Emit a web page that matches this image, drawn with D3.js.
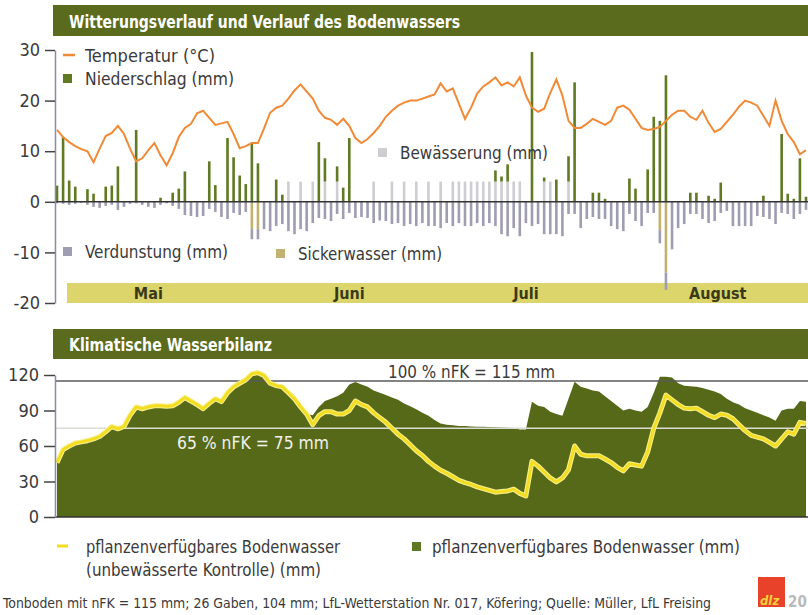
<!DOCTYPE html>
<html>
<head>
<meta charset="utf-8">
<script src="https://cdn.jsdelivr.net/npm/d3@7"></script>
<style>
  body { margin: 0; background: #fff; }
  svg text { font-family: "Liberation Sans Narrow", "Arial Narrow", "DejaVu Sans Condensed", sans-serif; }
</style>
</head>
<body>
<svg id="chart" width="808" height="615"></svg>
<script>
// ---- data (one value per day, 1 May .. 1 Sep) ----
const months = ['Mai', 'Juni', 'Juli', 'August'];
const monthLabelDay = [15, 48, 77, 108.5];

const temperature = [14.2, 12.8, 11.8, 11, 10.4, 10, 7.8, 10.5, 13, 13.6,
  15, 13.4, 10.5, 8, 8.6, 10.2, 11.6, 9.2, 7.2, 9.6,
  12.8, 14.6, 15.4, 17.5, 18, 16.6, 15.2, 15.5, 15.8, 13.4,
  10.6, 11, 11.6, 11.6, 14.5, 17.6, 18.6, 19, 20.4, 22,
  23.2, 21.8, 20.4, 18, 16.6, 16.2, 15.2, 16.4, 15, 12.6,
  11.6, 12.4, 13.6, 15, 16.8, 18, 19, 19.6, 20, 20,
  20.4, 20.8, 21.2, 23.4, 21.8, 22.4, 19.4, 16.4, 18.6, 21.4,
  22.8, 23.6, 24.6, 23, 23.6, 22.8, 24.6, 21, 18.6, 17.8,
  18.4, 21.5, 24.2, 21, 16, 14.6, 14.6, 15.4, 16.4, 15.8,
  15.2, 16, 18.6, 19, 18.2, 16.4, 14.6, 14.2, 14.4, 14.8,
  16, 17.2, 18, 18, 16.8, 16.2, 18, 15.6, 13.8, 14.4,
  15.8, 17.2, 18.8, 20, 19.6, 19, 17, 15, 20, 16,
  13.4, 11.8, 9.4, 10.2];

// Niederschlag: [day, mm]
const precipitation = [[0, 3.2], [1, 12.8], [2, 4.2], [3, 3], [5, 2.5], [6, 1.6], [8, 3], [9, 3.2],
  [10, 7], [13, 14.2], [17, 0.8], [19, 1.8], [20, 2.6], [21, 6], [25, 8], [26, 3.3],
  [28, 12.6], [29, 8.8], [30, 5.2], [31, 3.5], [32, 11.6], [33, 7.6], [36, 4.4], [37, 1.4],
  [43, 11.8], [44, 4.6], [46, 3], [47, 2.8], [48, 12.6], [72, 2.2], [73, 1], [74, 3.4],
  [78, 29.6], [80, 0.8], [82, 4.4], [84, 5], [85, 23.6], [88, 1.8], [89, 1.8], [90, 0.6],
  [94, 4.6], [95, 2.6], [97, 6.4], [98, 16.8], [99, 16], [100, 25], [104, 1.8], [105, 1.8],
  [107, 1.2], [108, 0.6], [109, 3.8], [116, 1.2], [119, 13.4], [120, 1.6], [121, 0.6],
  [122, 8.6], [123, 1]];

// Bewässerung: 26 Gaben zu 4 mm
const irrigationDays = [38, 40, 42, 44, 46, 52, 55, 57, 59, 61, 63, 65, 66, 67, 68, 69,
  70, 71, 72, 73, 74, 75, 76, 80, 81, 84];
const irrigationAmount = 4;

// Verdunstung (mm, shown negative)
const evaporation = [0.3, 0.4, 0.6, 0.4, 0.2, 0.6, 1, 1.2, 0.8, 0.6,
  1.6, 1, 0.4, 0.3, 0.6, 1, 1.2, 0.6, 0.3, 0.8,
  1.4, 2.6, 2.8, 3, 2.8, 1.4, 2, 3, 3.4, 2.2,
  2.6, 2, 2, 2, 5.4, 5.8, 4.8, 4.4, 5.8, 6.4,
  5.4, 5.8, 4.2, 3.2, 3.4, 3.8, 2.4, 3.4, 2.2, 3.2,
  3, 3.2, 4.2, 3.7, 3.8, 4.4, 4.2, 4.8, 4.4, 4.8,
  4.2, 4.8, 4.8, 5.2, 4.2, 4.8, 4.2, 4.8, 4.8, 4.2,
  4.8, 4.2, 4.8, 6.4, 6.8, 5.2, 6.8, 4.2, 4.8, 4.4,
  6.4, 6.4, 6.4, 6.8, 2.4, 2.4, 5.2, 3.4, 3, 3.4,
  3.4, 4.8, 5.4, 5.8, 2.4, 3.8, 4.8, 2.2, 2.2, 2.6,
  3.4, 9.4, 5.2, 4.4, 2.4, 2.4, 3.4, 4.2, 3.8, 2.2,
  1.8, 4.8, 4.8, 4.8, 4.8, 2.8, 3, 3.4, 4.4, 2.2,
  2.4, 3.4, 2.4, 1.6];

// Sickerwasser: [day, mm]
const seepage = [[32, 5.4], [33, 5.4], [99, 5.6], [100, 14]];

// pflanzenverfügbares Bodenwasser (mm)
const soilWaterControl = [46, 57, 60, 62.5, 63.5, 64.5, 66, 68, 72, 76.5,
  74.5, 76.5, 86, 93, 91.5, 93, 94, 94, 93.5, 94,
  97, 101, 98, 95, 91.5, 96, 100, 97.5, 105, 110,
  113, 116, 121, 122, 119.5, 113, 111, 110, 105, 100,
  93, 87, 78, 85.6, 89, 89, 87, 87, 90, 98,
  95, 93, 88, 84, 80, 75, 70, 66, 61, 56,
  52, 47, 43, 39.5, 37, 34, 31, 29, 27.5, 25.5,
  24, 22.5, 21, 21.5, 22, 23.5, 20, 17.8, 47, 43,
  38, 33, 29.7, 33, 40, 60, 53, 51.7, 51.7, 51.7,
  49, 46, 42, 39, 45, 44, 43, 55, 75, 88,
  103, 99, 95, 92, 91.5, 92, 89, 86, 84, 87,
  86, 83, 78, 73, 69, 67.5, 66, 63, 60, 66,
  72, 70, 80, 79];

const soilWaterIrrigated = [46, 57, 60, 62.5, 63.5, 64.5, 66, 68, 72, 76.5,
  74.5, 76.5, 86, 93, 91.5, 93, 94, 94, 93.5, 94,
  97, 101, 98, 95, 91.5, 96, 100, 97.5, 105, 110,
  113, 116, 121, 122, 119.5, 113, 111, 110, 105, 100,
  93, 87, 86, 93, 98, 100, 102, 105, 112, 114,
  112, 110, 107, 105, 103, 101, 99, 96, 93.5, 91,
  88, 85.6, 82, 79, 78, 77.5, 77, 76.8, 76.5, 76.3,
  76.2, 76, 75.8, 75.6, 75.5, 75.3, 74, 74, 97.5, 94,
  93, 89, 87, 85.6, 100, 114.4, 110, 108.5, 107, 106,
  102, 98, 94, 90, 91.5, 90, 89, 93, 105, 118.6,
  118.5, 117.8, 113, 111, 110.5, 110, 109, 107.5, 106, 104,
  100, 97, 95, 92, 90, 88, 86, 84, 81.4, 90,
  91.5, 91.5, 98, 97.5];

const nfk100 = 115;
const nfk65 = 75;
const topTicks = [-20, -10, 0, 10, 20, 30];
const bottomTicks = [0, 30, 60, 90, 120];

// ---- colours ----
const olive = '#5a6b1d';
const green = '#5f7a22';
const orange = '#f08a36';
const yellow = '#f2dd1e';
const evapGray = '#9f9db2';
const irrGray = '#cdcdd2';
const seepKhaki = '#c2b171';
const band = '#dcd56c';
const textCol = '#3a3a3a';

const svg = d3.select('#chart');

// ---- scales ----
const x = d3.scaleLinear().domain([0, 123]).range([57, 806]);
const yTop = d3.scaleLinear().domain([-20, 30]).range([303, 50]);
const yBot = d3.scaleLinear().domain([0, 120]).range([517, 375]);
const barW = 2.6;

// ---- title bars ----
function titleBar(y0, y1, label, len) {
  svg.append('rect').attr('x', 53).attr('y', y0).attr('width', 755).attr('height', y1 - y0)
    .attr('fill', olive);
  svg.append('text').attr('x', 69).attr('y', y1 - 8).text(label)
    .attr('fill', '#fff').attr('font-weight', 'bold').attr('font-size', 18)
    .attr('textLength', len).attr('lengthAdjust', 'spacingAndGlyphs');
}
titleBar(5, 36, 'Witterungsverlauf und Verlauf des Bodenwassers', 391);
titleBar(329, 359, 'Klimatische Wasserbilanz', 203);

// ---- top chart ----
const topG = svg.append('g');

// month band
topG.append('rect').attr('x', 67).attr('y', 283).attr('width', 741).attr('height', 20)
  .attr('fill', band);
topG.selectAll('.month').data(months).join('text')
  .attr('x', (d, i) => x(monthLabelDay[i]))
  .attr('y', 299)
  .attr('text-anchor', 'middle')
  .attr('font-weight', 'bold').attr('font-size', 16).attr('fill', '#3a3a1a')
  .text(d => d);

// irrigation (light bars above zero)
topG.selectAll('.irr').data(irrigationDays).join('rect')
  .attr('x', d => x(d) - barW / 2).attr('width', barW)
  .attr('y', yTop(irrigationAmount)).attr('height', yTop(0) - yTop(irrigationAmount))
  .attr('fill', irrGray);

// precipitation, stacked on irrigation
const irrSet = new Set(irrigationDays);
topG.selectAll('.prec').data(precipitation).join('rect')
  .attr('x', d => x(d[0]) - barW / 2).attr('width', barW)
  .attr('y', d => yTop(d[1] + (irrSet.has(d[0]) ? irrigationAmount : 0)))
  .attr('height', d => yTop(0) - yTop(d[1]))
  .attr('fill', green);

// seepage below zero, evaporation below that
const seepMap = new Map(seepage);
topG.selectAll('.seep').data(seepage).join('rect')
  .attr('x', d => x(d[0]) - barW / 2).attr('width', barW)
  .attr('y', yTop(0)).attr('height', d => yTop(-d[1]) - yTop(0))
  .attr('fill', seepKhaki);
topG.selectAll('.evap').data(evaporation).join('rect')
  .attr('x', (d, i) => x(i) - barW / 2).attr('width', barW)
  .attr('y', (d, i) => yTop(-(seepMap.get(i) || 0)))
  .attr('height', d => yTop(-d) - yTop(0))
  .attr('fill', evapGray);

// zero line
topG.append('line').attr('x1', 55).attr('x2', 808).attr('y1', yTop(0)).attr('y2', yTop(0))
  .attr('stroke', '#333').attr('stroke-width', 1.5);

// temperature line
topG.append('path').datum(temperature)
  .attr('d', d3.line().x((d, i) => x(i)).y(d => yTop(d)))
  .attr('fill', 'none').attr('stroke', orange).attr('stroke-width', 2);

// axis
const axTop = svg.append('g').attr('transform', 'translate(55,0)')
  .call(d3.axisLeft(yTop).tickValues(topTicks).tickSize(10).tickSizeOuter(0).tickPadding(5)
    .tickFormat(d => String(d)));
axTop.select('.domain').attr('stroke', '#8a8ca2').attr('stroke-width', 1.5);
axTop.selectAll('.tick line').attr('stroke', '#444').attr('stroke-width', 1.5);
axTop.selectAll('.tick text').attr('font-size', 18).attr('fill', textCol)
  .attr('font-family', '"Liberation Sans Narrow", "Arial Narrow", "DejaVu Sans Condensed", sans-serif');

// top legend
function legendText(g, px, py, label, len) {
  g.append('text').attr('x', px).attr('y', py).attr('font-size', 17.5).attr('fill', textCol)
    .attr('textLength', len).attr('lengthAdjust', 'spacingAndGlyphs').text(label);
}
function legendSquare(g, px, py, color, label, len) {
  g.append('rect').attr('x', px).attr('y', py).attr('width', 9).attr('height', 9).attr('fill', color);
  legendText(g, px + 22, py + 11, label, len);
}
topG.append('line').attr('x1', 63).attr('x2', 75).attr('y1', 55).attr('y2', 55)
  .attr('stroke', orange).attr('stroke-width', 2.5);
legendText(topG, 85, 62, 'Temperatur (°C)', 130);
legendSquare(topG, 63, 74, green, 'Niederschlag (mm)', 149);
legendSquare(topG, 378, 148, irrGray, 'Bewässerung (mm)', 148);
legendSquare(topG, 63, 247, evapGray, 'Verdunstung (mm)', 143);
legendSquare(topG, 276, 249, seepKhaki, 'Sickerwasser (mm)', 144);

// ---- bottom chart ----
const botG = svg.append('g');

botG.append('path').datum(soilWaterIrrigated)
  .attr('d', d3.area().x((d, i) => x(i)).y0(yBot(0)).y1(d => yBot(d)))
  .attr('fill', '#566919');

botG.append('line').attr('x1', 55).attr('x2', 808).attr('y1', yBot(nfk100)).attr('y2', yBot(nfk100))
  .attr('stroke', '#5a5a5a').attr('stroke-width', 1.5);
botG.append('line').attr('x1', 55).attr('x2', 808).attr('y1', yBot(nfk65)).attr('y2', yBot(nfk65))
  .attr('stroke', '#dcdcd6').attr('stroke-width', 1.5);

const ctrlLine = d3.line().x((d, i) => x(i)).y(d => yBot(d));
botG.append('path').datum(soilWaterControl).attr('d', ctrlLine)
  .attr('fill', 'none').attr('stroke', '#f7ee8a').attr('stroke-width', 5).attr('stroke-linejoin', 'round');
botG.append('path').datum(soilWaterControl).attr('d', ctrlLine)
  .attr('fill', 'none').attr('stroke', yellow).attr('stroke-width', 2.8).attr('stroke-linejoin', 'round');

botG.append('text').attr('x', 388).attr('y', 378).attr('font-size', 17.5).attr('fill', textCol)
  .attr('textLength', 167).attr('lengthAdjust', 'spacingAndGlyphs')
  .text('100 % nFK = 115 mm');
botG.append('text').attr('x', 177).attr('y', 449).attr('font-size', 17.5).attr('fill', '#f2f2ea')
  .attr('textLength', 152).attr('lengthAdjust', 'spacingAndGlyphs')
  .text('65 % nFK = 75 mm');

botG.append('line').attr('x1', 55).attr('x2', 808).attr('y1', yBot(0)).attr('y2', yBot(0))
  .attr('stroke', '#333').attr('stroke-width', 1.5);

const axBot = svg.append('g').attr('transform', 'translate(55,0)')
  .call(d3.axisLeft(yBot).tickValues(bottomTicks).tickSize(11).tickSizeOuter(0).tickPadding(5));
axBot.select('.domain').attr('stroke', '#8a8ca2').attr('stroke-width', 1.5);
axBot.selectAll('.tick line').attr('stroke', '#444').attr('stroke-width', 1.5);
axBot.selectAll('.tick text').attr('font-size', 18).attr('fill', textCol)
  .attr('font-family', '"Liberation Sans Narrow", "Arial Narrow", "DejaVu Sans Condensed", sans-serif');

// bottom legend
botG.append('line').attr('x1', 57).attr('x2', 68).attr('y1', 546).attr('y2', 546)
  .attr('stroke', yellow).attr('stroke-width', 3);
legendText(botG, 86, 553, 'pflanzenverfügbares Bodenwasser', 254);
legendText(botG, 86, 576, '(unbewässerte Kontrolle) (mm)', 235);
botG.append('rect').attr('x', 412).attr('y', 542).attr('width', 9).attr('height', 9).attr('fill', green);
legendText(botG, 432, 553, 'pflanzenverfügbares Bodenwasser (mm)', 308);

// footer
svg.append('text').attr('x', 3).attr('y', 608).attr('font-size', 14).attr('fill', textCol)
  .attr('textLength', 708).attr('lengthAdjust', 'spacingAndGlyphs')
  .text('Tonboden mit nFK = 115 mm; 26 Gaben, 104 mm; LfL-Wetterstation Nr. 017, Köfering; Quelle: Müller, LfL Freising');
svg.append('rect').attr('x', 758).attr('y', 577).attr('width', 27).attr('height', 30).attr('fill', '#e8432a');
svg.append('text').attr('x', 760).attr('y', 605).attr('font-size', 13).attr('font-weight', 'bold')
  .attr('font-style', 'italic').attr('fill', '#f6d23a').text('dlz');
svg.append('text').attr('x', 788).attr('y', 607).attr('font-size', 15).attr('font-weight', 'bold')
  .attr('fill', '#b9b9b9').text('20');
</script>
</body>
</html>
